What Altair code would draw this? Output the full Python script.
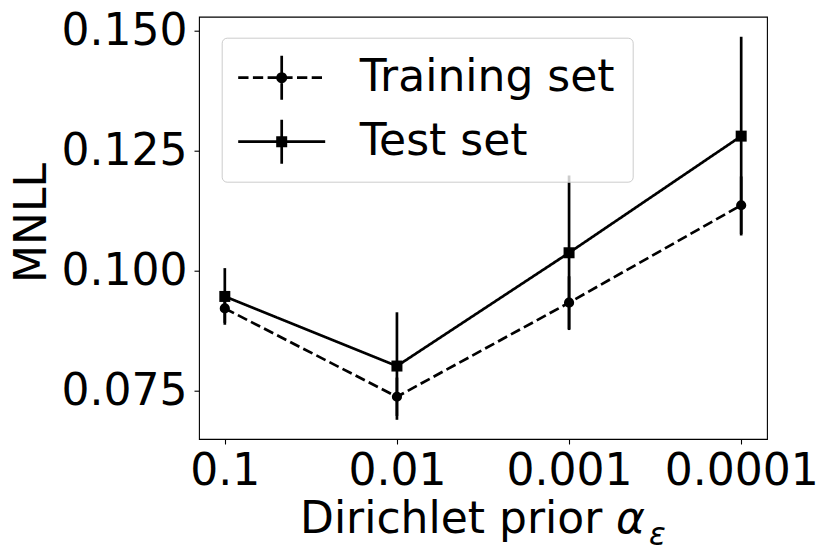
import math
import altair as alt
import pandas as pd

# ---- data ----
alpha_labels = ["0.1", "0.01", "0.001", "0.0001"]
alpha_values = [0.1, 0.01, 0.001, 0.0001]
series_names = ["Training set", "Test set"]
train_mnll = [0.0922, 0.0738, 0.0934, 0.1137]
train_err = [0.0030, 0.0040, 0.0055, 0.0060]
test_mnll = [0.0947, 0.0802, 0.1038, 0.1281]
test_err = [0.0059, 0.0112, 0.0161, 0.0207]

rows = []
for name, vals, errs in [(series_names[0], train_mnll, train_err),
                         (series_names[1], test_mnll, test_err)]:
    for a, lab, v, e in zip(alpha_values, alpha_labels, vals, errs):
        rows.append({"series": name, "alpha": a, "label": lab,
                     "mnll": v, "lo": v - e, "hi": v + e})
df = pd.DataFrame(rows)

FONT = "DejaVu Sans"
BLACK = "#000000"
LW = 2.7
W, H = 568, 422.3

x_scale = alt.Scale(type="log", domain=[7.0795e-5, 0.14125], reverse=True, nice=False)
y_scale = alt.Scale(domain=[0.0650, 0.15298], nice=False, zero=False)

x_enc = alt.X("alpha:Q", scale=x_scale,
              axis=alt.Axis(values=alpha_values, labelExpr="format(datum.value, '~g')",
                            title=None, grid=False, domain=False,
                            tickSize=5, tickWidth=1.1, tickColor=BLACK,
                            labelFont=FONT, labelFontSize=44, labelColor=BLACK,
                            labelPadding=5, labelFlush=False, labelOverlap=False))
y_enc = alt.Y("mnll:Q", scale=y_scale,
              axis=alt.Axis(values=[0.075, 0.1, 0.125, 0.15], format=".3f",
                            title="MNLL", grid=False, domain=False,
                            tickSize=5, tickWidth=1.1, tickColor=BLACK,
                            labelFont=FONT, labelFontSize=44, labelColor=BLACK,
                            labelPadding=7, labelFlush=False, labelOverlap=False,
                            titleFont=FONT, titleFontSize=44, titleFontWeight="normal",
                            titleColor=BLACK, titleAngle=270, titleX=-154, titleY=205.8,
                            titleAlign="center", titleBaseline="alphabetic"))

base = alt.Chart(df)


def series_layers(name, dash, shape, size):
    sub = base.transform_filter(alt.datum.series == name)
    err = sub.mark_rule(color=BLACK, strokeWidth=LW).encode(
        x=x_enc, y=alt.Y("lo:Q", scale=y_scale), y2="hi:Q")
    line = sub.mark_line(color=BLACK, strokeWidth=LW, strokeDash=dash).encode(x=x_enc, y=y_enc)
    pts = sub.mark_point(shape=shape, filled=True, color=BLACK, opacity=1, size=size).encode(
        x=x_enc, y=y_enc)
    return [err, line, pts]


# ---- legend handles as filled custom symbol paths (unit = 22 px) ----
T = 0.0614  # half line thickness in symbol units


def hbar(a, b):
    return f"M{a},{-T}H{b}V{T}H{a}Z"


def vbar(a, b):
    return f"M{-T},{a}H{T}V{b}H{-T}Z"


def circle_path(r, n=24):
    pts = [(r * math.cos(2 * math.pi * k / n), r * math.sin(2 * math.pi * k / n)) for k in range(n)]
    return "M" + "L".join(f"{px:.3f},{py:.3f}" for px, py in pts) + "Z"


def square_path(h):
    return f"M{-h},{-h}H{h}V{h}H{-h}Z"


dash_segs = [(-1.977, -1.509), (-1.309, -0.841), (-0.641, -0.173),
             (0.027, 0.495), (0.695, 1.164), (1.364, 1.832)]
train_sym = "".join(hbar(a, b) for a, b in dash_segs) + vbar(-1, 1) + circle_path(0.25)
test_sym = hbar(-1.977, 1.977) + vbar(-1, 1) + square_path(0.25)

legend_layer = base.transform_filter("false").mark_point(
    filled=True, color=BLACK, opacity=1, size=1936
).encode(
    shape=alt.Shape("series:N",
                    scale=alt.Scale(domain=series_names, range=[train_sym, test_sym]),
                    legend=alt.Legend(title=None, orient="none", legendX=22.7, legendY=21,
                                      padding=18, rowPadding=20, symbolOffset=20,
                                      labelOffset=56,
                                      symbolSize=1936, symbolStrokeWidth=0,
                                      symbolFillColor=BLACK,
                                      labelFont=FONT, labelFontSize=44, labelColor=BLACK,
                                      labelLimit=0, fillColor="rgba(255,255,255,0.8)",
                                      strokeColor="#cccccc", cornerRadius=5))
)

# ---- x-axis title with italic alpha and subscript epsilon ----
one = alt.Data(values=[{"k": 0}])
t1 = alt.Chart(one).mark_text(text="Dirichlet prior", font=FONT, fontSize=44, color=BLACK,
                              align="left", baseline="alphabetic").encode(
    x=alt.value(101), y=alt.value(516.3))
t2 = alt.Chart(one).mark_text(text="α", font=FONT, fontSize=44, fontStyle="italic", color=BLACK,
                              align="left", baseline="alphabetic").encode(
    x=alt.value(417), y=alt.value(516.3))
t3 = alt.Chart(one).mark_text(text="ε", font=FONT, fontSize=31, fontStyle="italic", color=BLACK,
                              align="left", baseline="alphabetic").encode(
    x=alt.value(450), y=alt.value(528.5))

layers = series_layers(series_names[0], [10.3, 4.4], "circle", 104) + \
    series_layers(series_names[1], [1, 0], "square", 121) + [legend_layer, t1, t2, t3]

chart = alt.layer(*layers).properties(
    width=W, height=H,
    autosize=alt.AutoSizeParams(type="none"),
    padding={"left": 191, "top": 8.7, "right": 55, "bottom": 109},
    background="white",
).configure_view(stroke=BLACK, strokeWidth=1.1)

chart.save("out.html", embed_options={"renderer": "svg", "actions": False})
